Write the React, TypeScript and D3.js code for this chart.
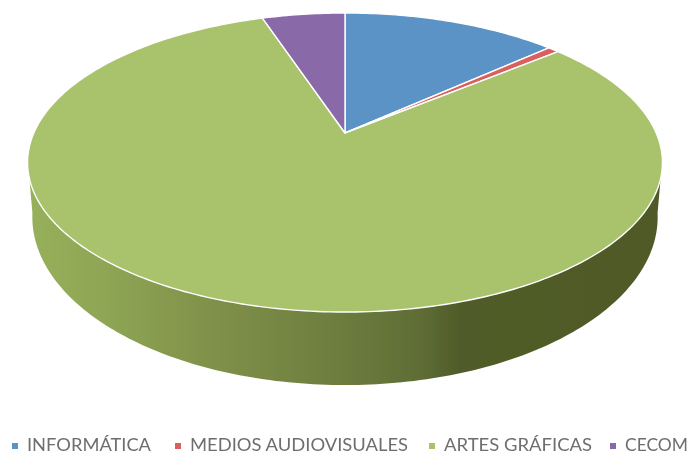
import React from "react";
import * as d3 from "d3";

const categories = ["INFORMÁTICA", "MEDIOS AUDIOVISUALES", "ARTES GRÁFICAS", "CECOM"];
const values = [13.3, 0.7, 80.9, 5.1];
const colors = ["#5b93c7", "#d9605c", "#a9c26c", "#8a69a8"];
const legendX = [12, 175, 429, 610];
const legendWidths = [124, 218, 148, 63];
const sideStops: [number, string][] = [
  [0, "#97b05b"], [0.1, "#90a856"], [0.3, "#7f9049"], [0.5, "#6c7c3e"],
  [0.62, "#5f6d35"], [0.68, "#505c29"], [0.9, "#4f5a27"], [1, "#4f5a27"],
];

const cx = 345, apexY = 133;
const K = 0.1973, A = 143.7, B = 311.2;
const topCy = 162.5, rimCy = 217, rimScaleX = 0.985, rimScaleY = 1.124;

type P = [number, number];
// perspective projection of a point on the unit disc; angle clockwise from the top
const project = (a: number, r = 1): P => {
  const u = r * Math.sin(a), v = -r * Math.cos(a);
  const s = 1 / (1 - K * v);
  return [cx + B * u * s, apexY + A * v * s];
};
const lower = ([x, y]: P): P => [cx + (x - cx) * rimScaleX, rimCy + (y - topCy) * rimScaleY];

const sweep = (a0: number, a1: number): P[] => {
  const n = Math.max(2, Math.ceil(Math.abs(a1 - a0) * 60));
  const t = d3.scaleLinear().domain([0, n]).range([a0, a1]);
  return d3.range(n + 1).map((i) => project(t(i)));
};
const line = d3.line<P>();

export default function App() {
  const arcs = d3.pie<number>().sort(null)(values);
  const sideTop = sweep((100 * Math.PI) / 180, (260 * Math.PI) / 180);
  const sidePath = line([...sideTop, ...sideTop.slice().reverse().map(lower)]) + "Z";
  return (
    <svg width={690} height={455} style={{ position: "absolute", left: 0, top: 0, background: "#fff" }}>
      <defs>
        <linearGradient id="side" gradientUnits="userSpaceOnUse" x1={27} x2={662} y1={0} y2={0}>
          {sideStops.map(([o, c]) => (
            <stop key={o} offset={o} stopColor={c} />
          ))}
        </linearGradient>
        <filter id="soft" x="-5%" y="-5%" width="110%" height="110%">
          <feGaussianBlur stdDeviation={0.5} />
        </filter>
        <filter id="softer" x="-5%" y="-20%" width="110%" height="140%">
          <feGaussianBlur stdDeviation={0.7} />
        </filter>
      </defs>
      <g filter="url(#soft)">
        <path d={sidePath} fill="url(#side)" />
        {arcs.map((d, i) => (
          <path
            key={i}
            d={line([[cx, apexY], ...sweep(d.startAngle, d.endAngle)]) + "Z"}
            fill={colors[i]}
            stroke="#fff"
            strokeWidth={1.4}
            strokeLinejoin="round"
          />
        ))}
      </g>
      <g filter="url(#softer)" fontFamily="Lato, sans-serif" fontSize={17} fill="#6e6e6e">
        {categories.map((c, i) => (
          <g key={c} transform={`translate(${legendX[i]},451)`}>
            <rect x={0} y={-8} width={6} height={6} fill={colors[i]} />
            <text x={15} y={0} textLength={legendWidths[i]} lengthAdjust="spacingAndGlyphs">{c}</text>
          </g>
        ))}
      </g>
    </svg>
  );
}
